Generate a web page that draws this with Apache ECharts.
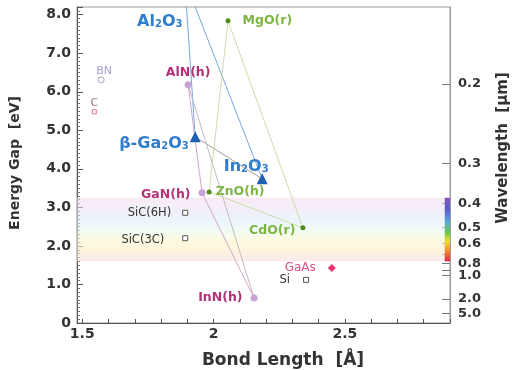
<!DOCTYPE html>
<html>
<head>
<meta charset="utf-8">
<script src="https://cdn.jsdelivr.net/npm/echarts@6/dist/echarts.min.js"></script>
<style>
  html, body { margin: 0; padding: 0; background: #ffffff; }
  #chart { width: 517px; height: 370px; }
</style>
</head>
<body>
<div id="chart"></div>
<script>
// Semiconductor compounds: bond length (Å) vs. band gap (eV)
const compounds  = ['Al2O3', 'β-Ga2O3', 'In2O3', 'MgO(r)', 'ZnO(h)', 'CdO(r)', 'AlN(h)', 'GaN(h)', 'InN(h)', 'GaAs', 'Si', 'SiC(6H)', 'SiC(3C)', 'BN', 'C'];
const bondLength = [1.89, 1.93, 2.185, 2.055, 1.983, 2.34, 1.903, 1.956, 2.154, 2.45, 2.352, 1.892, 1.892, 1.572, 1.546];
const energyGap  = [8.9, 4.83, 3.74, 7.84, 3.40, 2.47, 6.18, 3.38, 0.65, 1.43, 1.12, 2.86, 2.20, 6.31, 5.48];
const family     = ['oxide', 'oxide', 'oxide', 'zinc', 'zinc', 'zinc', 'nitride', 'nitride', 'nitride', 'gaas', 'si', 'si', 'si', 'bn', 'c'];

// Alloy tie lines between end compounds
const tieLines = [
  ['Al2O3', 'β-Ga2O3'], ['Al2O3', 'In2O3'], ['β-Ga2O3', 'In2O3'],
  ['MgO(r)', 'ZnO(h)'], ['MgO(r)', 'CdO(r)'], ['ZnO(h)', 'CdO(r)'],
  ['AlN(h)', 'GaN(h)'], ['AlN(h)', 'InN(h)'], ['GaN(h)', 'InN(h)']
];

// Axis ticks
const xTickValues  = [1.5, 2, 2.5];
const xTickLabels  = ['1.5', '2', '2.5'];
const xMinorTicks  = [1.5, 1.6, 1.7, 1.8, 1.9, 2.0, 2.1, 2.2, 2.3, 2.4, 2.5, 2.6, 2.7, 2.8, 2.9];
const yTickValues  = [0, 1, 2, 3, 4, 5, 6, 7, 8];
const yTickLabels  = ['0', '1.0', '2.0', '3.0', '4.0', '5.0', '6.0', '7.0', '8.0'];
const wavelengthTicks  = [0.2, 0.3, 0.4, 0.5, 0.6, 0.7, 0.8, 0.9, 1.0, 2.0, 5.0];
const wavelengthLabels = ['0.2', '0.3', '0.4', '0.5', '0.6', '', '0.8', '', '1.0', '2.0', '5.0'];

// Visible light range in eV
const visibleBand = [1.6, 3.25];

const HC = 1.2398; // eV·µm
const FONT = '"DejaVu Sans", "Liberation Sans", Arial, sans-serif';

const wavelengthEnergies = wavelengthTicks.map(w => HC / w);

function wavelengthLabel(e) {
  let best = 0, diff = Infinity;
  wavelengthEnergies.forEach((v, i) => { const d = Math.abs(v - e); if (d < diff) { diff = d; best = i; } });
  return wavelengthLabels[best];
}

// Marker and label styles per family
const familyStyle = {
  oxide:   { symbol: 'triangle', size: 11, item: { color: '#1d5fb0' },
             label: { color: '#2f7dcc', fontWeight: 'bold', fontSize: 16 } },
  zinc:    { symbol: 'circle', size: 5, item: { color: '#4f8a1c' },
             label: { color: '#7db544', fontWeight: 'bold', fontSize: 12.5 } },
  nitride: { symbol: 'circle', size: 7, item: { color: '#c8a3d8' },
             label: { color: '#b2327a', fontWeight: 'bold', fontSize: 12.5 } },
  gaas:    { symbol: 'diamond', size: 8, item: { color: '#e8356f' },
             label: { color: '#e04f88', fontWeight: 'normal', fontSize: 12 } },
  si:      { symbol: 'rect', size: 5, item: { color: '#ffffff', borderColor: '#555555', borderWidth: 1 },
             label: { color: '#333333', fontWeight: 'normal', fontSize: 11.5 } },
  bn:      { symbol: 'circle', size: 6, item: { color: '#ffffff', borderColor: '#a99fc2', borderWidth: 1 },
             label: { color: '#a89ccb', fontWeight: 'normal', fontSize: 11 } },
  c:       { symbol: 'rect', size: 4, item: { color: '#ffffff', borderColor: '#e07090', borderWidth: 1 },
             label: { color: '#a07078', fontWeight: 'normal', fontSize: 11 } }
};

// Where each point's label sits relative to its marker
const labelPlacement = {
  'β-Ga2O3': { position: 'left', distance: 1, offset: [0, 4] },
  'In2O3':   { position: 'top', distance: -1, offset: [-16, 0] },
  'MgO(r)':  { position: 'right', distance: 12 },
  'ZnO(h)':  { position: 'right', distance: 4 },
  'CdO(r)':  { position: 'left', distance: 5, offset: [0, 3] },
  'AlN(h)':  { position: 'top', distance: 2 },
  'GaN(h)':  { position: 'left', distance: 8, offset: [0, 2] },
  'InN(h)':  { position: 'left', distance: 8 },
  'GaAs':    { position: 'left', distance: 12 },
  'Si':      { position: 'left', distance: 13 },
  'SiC(6H)': { position: 'left', distance: 11 },
  'SiC(3C)': { position: 'left', distance: 18, offset: [0, 2] },
  'BN':      { position: 'top', distance: 0, offset: [3, 0] },
  'C':       { position: 'top', distance: 1 }
};

const subRich = (color) => ({
  n: { fontFamily: FONT, fontSize: 16, fontWeight: 'bold', color: color, lineHeight: 22, verticalAlign: 'bottom' },
  s: { fontFamily: FONT, fontSize: 10, fontWeight: 'bold', color: color, lineHeight: 10, verticalAlign: 'bottom' }
});
function formulaText(name) {
  return name.split(/(\d)/).filter(p => p !== '').map(p => /\d/.test(p) ? '{s|' + p + '}' : '{n|' + p + '}').join('');
}

// Tie line series
const tieColor = { oxide: '#79a7dd', zinc: '#cfdcaa', nitride: '#cfa7c9' };
const tieSeries = tieLines.map(([a, b]) => {
  const i = compounds.indexOf(a), j = compounds.indexOf(b);
  let color = tieColor[family[i]];
  if (a === 'β-Ga2O3' && b === 'In2O3') color = '#a99d92';
  if (a === 'AlN(h)' && b === 'InN(h)') color = '#c6b8c6';
  return {
    type: 'line', silent: true, symbol: 'none', z: 2,
    lineStyle: { color: color, width: 1 },
    data: [[bondLength[i], energyGap[i]], [bondLength[j], energyGap[j]]]
  };
});

// Scatter series per family
const scatterSeries = Object.keys(familyStyle).map(fam => {
  const st = familyStyle[fam];
  const data = [];
  compounds.forEach((name, i) => {
    if (family[i] !== fam) return;
    const place = labelPlacement[name] || { position: 'top' };
    const lbl = Object.assign({
      show: true, fontFamily: FONT, color: st.label.color,
      fontWeight: st.label.fontWeight, fontSize: st.label.fontSize
    }, place);
    if (fam === 'oxide') {
      lbl.formatter = formulaText(name);
      lbl.rich = subRich(st.label.color);
    } else {
      lbl.formatter = name;
    }
    data.push({ name: name, value: [bondLength[i], energyGap[i]], label: lbl });
  });
  const s = {
    type: 'scatter', z: 4, silent: true,
    symbol: st.symbol, symbolSize: st.size,
    itemStyle: Object.assign({ opacity: 1 }, st.item),
    data: data
  };
  if (fam === 'oxide') {
    // Al2O3 lies above the plotted range; its name is written inside the frame
    s.markPoint = {
      silent: true, symbol: 'circle', symbolSize: 0, animation: false,
      label: { show: true, position: 'inside', formatter: formulaText('Al2O3'), rich: subRich(st.label.color) },
      data: [{ coord: [1.795, 7.9] }]
    };
  }
  return s;
});

// Visible-spectrum band and colour bar
const bandSeries = {
  type: 'line', data: [], silent: true, z: 1,
  markArea: {
    silent: true, animation: false,
    data: [
      [{ yAxis: visibleBand[1], itemStyle: { color: new echarts.graphic.LinearGradient(0, 0, 0, 1, [
          { offset: 0.00, color: 'rgba(244,218,236,0.55)' },
          { offset: 0.18, color: 'rgba(232,226,244,0.55)' },
          { offset: 0.35, color: 'rgba(218,236,248,0.55)' },
          { offset: 0.50, color: 'rgba(230,246,240,0.55)' },
          { offset: 0.64, color: 'rgba(246,248,206,0.6)' },
          { offset: 0.78, color: 'rgba(252,240,196,0.6)' },
          { offset: 1.00, color: 'rgba(250,220,222,0.6)' }
        ]) } },
       { yAxis: visibleBand[0] }],
      [{ xAxis: 2.88, yAxis: visibleBand[1], itemStyle: { color: new echarts.graphic.LinearGradient(0, 0, 0, 1, [
          { offset: 0.00, color: '#8a55b8' },
          { offset: 0.18, color: '#5a5ec8' },
          { offset: 0.38, color: '#58a8d8' },
          { offset: 0.55, color: '#6cc850' },
          { offset: 0.68, color: '#ece030' },
          { offset: 0.80, color: '#f0a030' },
          { offset: 1.00, color: '#e02840' }
        ]) } },
       { xAxis: 2.9, yAxis: visibleBand[0] }]
    ]
  }
};

const axisColor = '#555555';
const tickFont = { fontFamily: FONT, fontWeight: 'bold', fontSize: 14, color: '#333333' };

const chart = echarts.init(document.getElementById('chart'), null, { renderer: 'canvas' });
chart.setOption({
  animation: false,
  backgroundColor: '#ffffff',
  grid: { left: 77, right: 67, top: 7, bottom: 47, show: true, borderColor: '#9a9a9a', borderWidth: 1 },
  xAxis: {
    type: 'value', min: 1.48, max: 2.9,
    axisLine: { show: true, lineStyle: { color: axisColor } },
    axisTick: { show: true, inside: true, length: 4, customValues: xMinorTicks, lineStyle: { color: '#555555' } },
    axisLabel: Object.assign({ customValues: xTickValues, margin: 4,
      formatter: v => xTickLabels[xTickValues.findIndex(t => Math.abs(t - v) < 1e-6)] }, tickFont),
    splitLine: { show: false }
  },
  yAxis: [
    {
      type: 'value', min: 0, max: 8.2, interval: 1, position: 'left',
      axisLine: { show: true, lineStyle: { color: axisColor } },
      axisTick: { show: true, inside: true, length: 6, lineStyle: { color: '#555555' } },
      minorTick: { show: true, splitNumber: 10, length: 3, lineStyle: { color: '#777777' } },
      axisLabel: Object.assign({ customValues: yTickValues, margin: 6,
        formatter: v => yTickLabels[yTickValues.findIndex(t => Math.abs(t - v) < 1e-6)] }, tickFont),
      splitLine: { show: false }
    },
    {
      type: 'value', min: 0, max: 8.2, position: 'right',
      axisLine: { show: true, lineStyle: { color: '#9a9a9a' } },
      axisTick: { show: true, inside: true, length: 8, customValues: wavelengthEnergies, lineStyle: { color: '#777777' } },
      axisLabel: Object.assign({ customValues: wavelengthEnergies, margin: 8, formatter: v => wavelengthLabel(v) }, tickFont, { fontSize: 13 }),
      splitLine: { show: false }
    }
  ],
  graphic: [
    { type: 'text', x: 15, y: 163, rotation: Math.PI / 2,
      style: { text: 'Energy Gap  [eV]', fontFamily: FONT, fontWeight: 'bold', fontSize: 14, fill: '#333333', align: 'center', verticalAlign: 'middle' } },
    { type: 'text', x: 503, y: 148, rotation: Math.PI / 2,
      style: { text: 'Wavelength  [µm]', fontFamily: FONT, fontWeight: 'bold', fontSize: 15, fill: '#333333', align: 'center', verticalAlign: 'middle' } },
    { type: 'text', x: 283, y: 361,
      style: { text: 'Bond Length  [Å]', fontFamily: FONT, fontWeight: 'bold', fontSize: 17, fill: '#333333', align: 'center', verticalAlign: 'middle' } }
  ],
  series: [bandSeries].concat(tieSeries, scatterSeries)
});
</script>
</body>
</html>
